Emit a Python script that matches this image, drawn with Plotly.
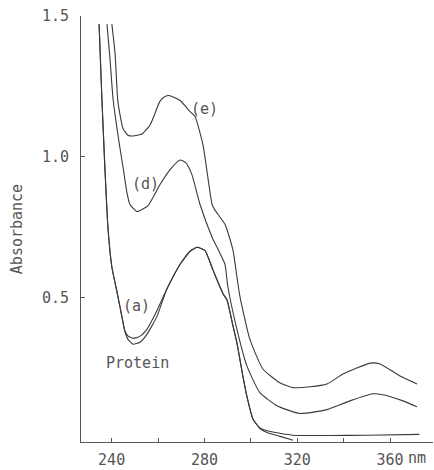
import plotly.graph_objects as go

# Wavelength (nm) and absorbance
wl_protein = [234.6, 235.8, 237.1, 238.4, 240.1, 242.3, 244.4, 245.7, 247.0, 249.2, 252.2, 255.2,
              259.5, 263.8, 269.5, 273.8, 276.8, 280.2, 283.7, 288.0, 289.7, 292.3, 294.0, 296.6,
              298.3, 300.9, 303.9, 307.0, 312.6, 318.2]
abs_protein = [1.471, 1.207, 0.961, 0.750, 0.609, 0.521, 0.434, 0.381, 0.353, 0.335, 0.342, 0.370,
               0.433, 0.531, 0.619, 0.665, 0.679, 0.668, 0.598, 0.514, 0.493, 0.400, 0.340, 0.220,
               0.150, 0.070, 0.036, 0.022, 0.008, -0.006]

wl_a = [234.6, 235.8, 237.1, 238.4, 240.1, 242.3, 244.4, 245.7, 247.0, 249.2, 252.2, 255.2,
        259.5, 263.8, 269.5, 273.8, 276.8, 280.2, 283.7, 288.0, 289.7, 292.3, 294.0, 296.6,
        298.3, 300.9, 303.9, 308.3, 318.2, 333.8, 350.0, 372.6]
abs_a = [1.471, 1.207, 0.961, 0.750, 0.609, 0.521, 0.434, 0.383, 0.365, 0.356, 0.363, 0.388,
         0.454, 0.531, 0.619, 0.665, 0.679, 0.668, 0.598, 0.514, 0.493, 0.400, 0.340, 0.220,
         0.150, 0.070, 0.038, 0.025, 0.012, 0.011, 0.012, 0.015]

wl_d = [238.0, 239.3, 240.6, 242.3, 243.6, 245.3, 246.6, 247.9, 250.9, 255.7, 260.8, 265.1,
        269.5, 272.0, 274.6, 278.1, 283.3, 285.8, 288.8, 290.1, 294.0, 298.3, 303.9, 311.2,
        321.2, 332.8, 342.7, 352.6, 356.9, 365.6, 371.6]
abs_d = [1.471, 1.348, 1.207, 1.101, 1.031, 0.943, 0.873, 0.831, 0.806, 0.827, 0.901, 0.954,
         0.989, 0.979, 0.937, 0.831, 0.715, 0.673, 0.620, 0.539, 0.388, 0.258, 0.163, 0.117,
         0.089, 0.103, 0.134, 0.159, 0.156, 0.134, 0.113]

wl_e = [240.1, 241.5, 242.7, 244.9, 247.0, 249.2, 253.1, 256.5, 258.7, 260.8, 263.0, 264.7,
        269.5, 273.8, 275.9, 279.4, 283.3, 284.6, 288.9, 292.3, 294.0, 295.3, 299.6, 305.2,
        312.5, 318.1, 325.5, 332.8, 339.7, 351.4, 355.7, 364.3, 371.6]
abs_e = [1.471, 1.365, 1.196, 1.101, 1.077, 1.074, 1.081, 1.112, 1.155, 1.197, 1.214, 1.218,
         1.200, 1.161, 1.144, 1.042, 0.831, 0.810, 0.760, 0.669, 0.574, 0.504, 0.352, 0.247,
         0.198, 0.181, 0.184, 0.194, 0.229, 0.268, 0.265, 0.222, 0.194]

x_tickvals = [240, 260, 280, 300, 320, 340, 360]
x_ticktext = ["240", "", "280", "", "320", "", "360"]
y_tickvals = [0.5, 1.0, 1.5]
y_ticktext = ["0.5", "1.0", "1.5"]

labels = [("(e)", 279.9, 1.171), ("(d)", 254.8, 0.905), ("(a)", 250.9, 0.469), ("Protein", 251.3, 0.268)]

LINE = "#3a3a3a"
TXT = "#555555"
FONT = "DejaVu Sans Mono"

fig = go.Figure()
for wl, ab, name in [(wl_protein, abs_protein, "Protein"), (wl_a, abs_a, "(a)"),
                     (wl_d, abs_d, "(d)"), (wl_e, abs_e, "(e)")]:
    fig.add_trace(go.Scatter(x=wl, y=ab, mode="lines", name=name,
                             line=dict(color=LINE, width=1.1, shape="spline", smoothing=0.5),
                             showlegend=False, hoverinfo="skip"))

for text, x, y in labels:
    fig.add_annotation(x=x, y=y, text=text, showarrow=False,
                       font=dict(family=FONT, size=15, color=TXT))

fig.add_annotation(x=371.7, y=0, xref="x", yref="paper", yanchor="top", yshift=-5, text="nm",
                   showarrow=False, font=dict(family=FONT, size=15, color=TXT))

fig.update_layout(
    width=434, height=470,
    margin=dict(l=81, r=1, t=16, b=23),
    paper_bgcolor="white", plot_bgcolor="white",
    font=dict(family=FONT, size=15, color=TXT),
)
fig.update_xaxes(range=[226.8, 378.5], tickvals=x_tickvals, ticktext=x_ticktext,
                 ticks="inside", ticklen=4, tickcolor="#555", showline=True, linecolor="#555",
                 linewidth=1, showgrid=False, zeroline=False, ticklabelstandoff=4)
fig.update_yaxes(range=[-0.012, 1.5], tickvals=y_tickvals, ticktext=y_ticktext,
                 ticks="inside", ticklen=4, tickcolor="#555", showline=True, linecolor="#555",
                 linewidth=1, showgrid=False, zeroline=False, ticklabelstandoff=8,
                 title=dict(text="Absorbance", standoff=15, font=dict(family=FONT, size=15, color=TXT)))

fig.write_html("out.html", config={"displayModeBar": False},
               post_script="document.body.style.margin='0';document.body.style.overflow='hidden';")
